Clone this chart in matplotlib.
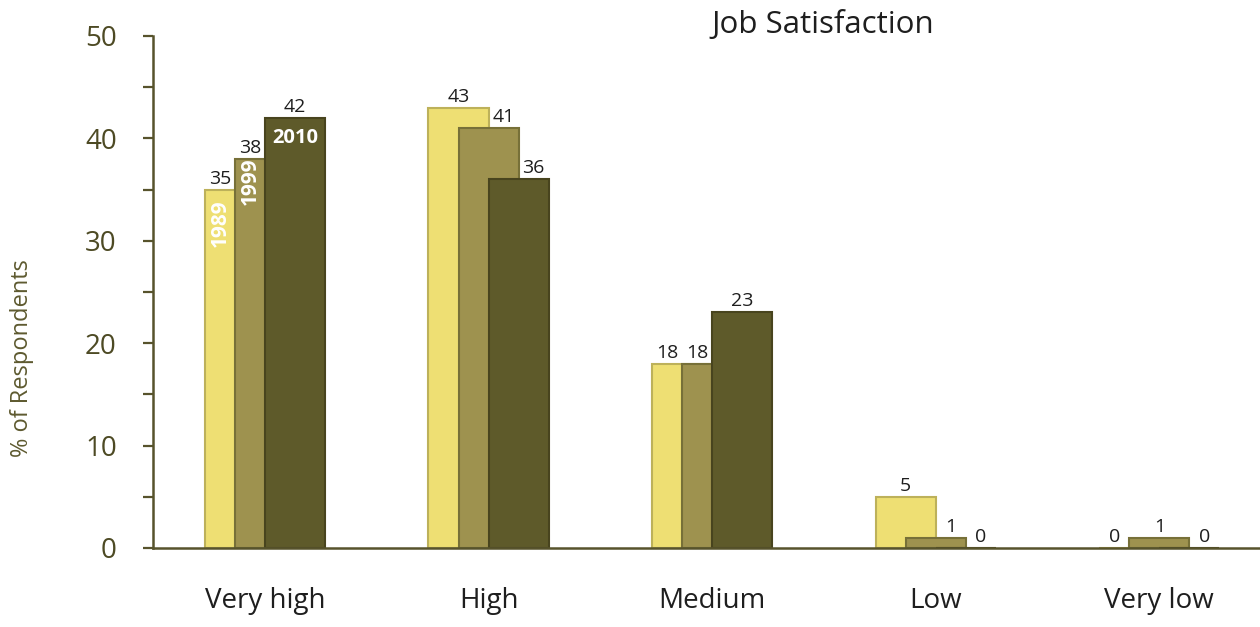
import matplotlib
matplotlib.use("Agg")
import matplotlib.pyplot as plt
import numpy as np

categories = ["Very high", "High", "Medium", "Low", "Very low"]
years = ["1989", "1999", "2010"]
values_1989 = [35, 43, 18, 5, 0]
values_1999 = [38, 41, 18, 1, 1]
values_2010 = [42, 36, 23, 0, 0]
yticks = [0, 10, 20, 30, 40, 50]

series = [values_1989, values_1999, values_2010]
fills = ["#EEDF73", "#9E924F", "#5E5A2A"]
edges = ["#BDB15A", "#777038", "#48441E"]
axis_col = "#57532C"
text_col = "#1E1E1E"

plt.rcParams["font.family"] = ["Open Sans", "DejaVu Sans"]

fig = plt.figure(figsize=(12.6, 6.27), dpi=100)
ax = fig.add_axes([0.1214, 0.126, 0.8776, 0.8166])

x = np.arange(len(categories))
width = 0.2686
step = 0.1343

for i, vals in enumerate(series):
    ax.bar(x + (i - 1) * step, vals, width=width, color=fills[i],
           edgecolor=edges[i], linewidth=1.5, zorder=2 + i)

# value labels: placed over the uncovered half of each bar top
for c in range(len(categories)):
    for i, vals in enumerate(series):
        v = vals[c]
        right = series[i + 1][c] if i + 1 < len(series) else -1
        left = series[i - 1][c] if i - 1 >= 0 else -1
        if right >= v and i + 1 < len(series):
            shift = -step / 2
        elif left > v:
            shift = step / 2
        else:
            shift = 0
        ax.text(x[c] + (i - 1) * step + shift, v + 0.2, str(v),
                ha="center", va="bottom", fontsize=14, color=text_col,
                zorder=10)

# year labels in first group
ax.text(x[0] - step - step / 2, 31.7, years[0], rotation=90, ha="center",
        va="center", color="white", fontsize=15, fontweight="bold", zorder=10)
ax.text(x[0] - step / 2, 35.8, years[1], rotation=90, ha="center",
        va="center", color="white", fontsize=15, fontweight="bold", zorder=10)
ax.text(x[0] + step, 40.0, years[2], ha="center", va="center",
        color="white", fontsize=14.5, fontweight="bold", zorder=10)

ax.set_xlim(-0.501, 4.445)
ax.set_ylim(0, 50)
ax.set_yticks(yticks)
ax.set_yticks([5, 15, 25, 35, 45], minor=True)
ax.set_xticks(x)
ax.set_xticklabels(categories, fontsize=20, color=text_col)
ax.tick_params(axis="x", length=0, pad=28)
ax.tick_params(axis="y", which="both", direction="out", length=7,
               width=1.6, color=axis_col, labelsize=20, labelcolor="#4D4A24",
               pad=19)

for s in ["top", "right"]:
    ax.spines[s].set_visible(False)
for s in ["left", "bottom"]:
    ax.spines[s].set_color(axis_col)
    ax.spines[s].set_linewidth(1.8)
ax.spines["bottom"].set_zorder(20)

fig.text(22 / 1260, 1 - 358 / 627, "% of Respondents", rotation=90,
         ha="center", va="center", fontsize=17, color="#5E5A30")

fig.text(0.653, 0.96, "Job Satisfaction", ha="center", va="center",
         fontsize=22.5, color=text_col)

fig.savefig("out.png", dpi=100)
